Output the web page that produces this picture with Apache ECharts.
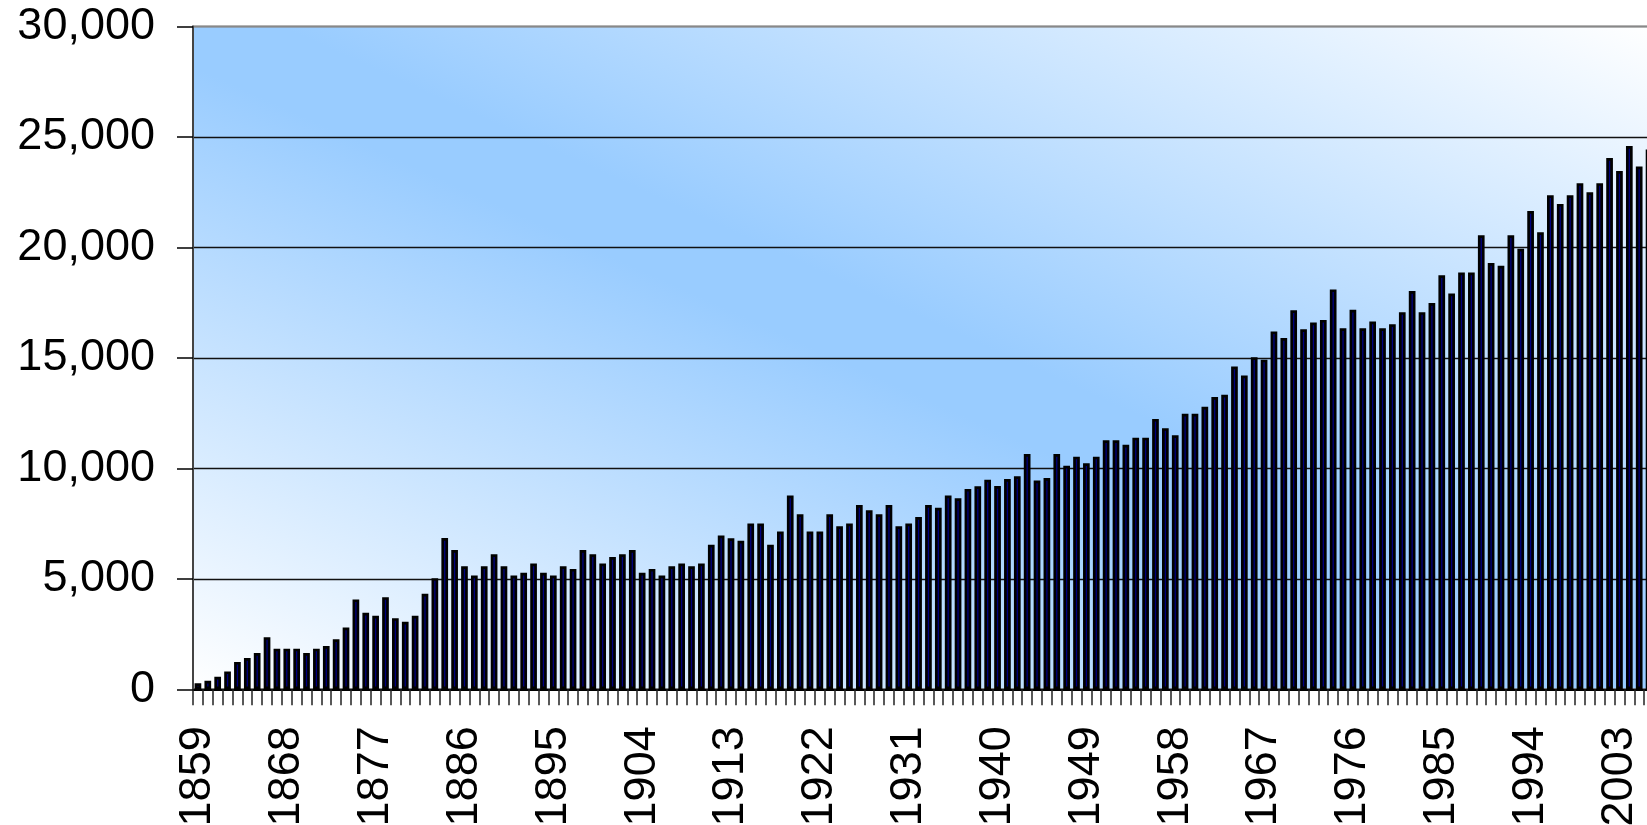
<!DOCTYPE html>
<html>
<head>
<meta charset="utf-8">
<script src="https://cdn.jsdelivr.net/npm/echarts@6/dist/echarts.min.js"></script>
<style>
  html, body { margin: 0; padding: 0; background: #ffffff; }
  #chart { width: 1647px; height: 825px; }
</style>
</head>
<body>
<div id="chart"></div>
<script>
// Yearly totals, 1859-2006
const years = [
  1859, 1860, 1861, 1862, 1863, 1864, 1865, 1866, 1867, 1868,
  1869, 1870, 1871, 1872, 1873, 1874, 1875, 1876, 1877, 1878,
  1879, 1880, 1881, 1882, 1883, 1884, 1885, 1886, 1887, 1888,
  1889, 1890, 1891, 1892, 1893, 1894, 1895, 1896, 1897, 1898,
  1899, 1900, 1901, 1902, 1903, 1904, 1905, 1906, 1907, 1908,
  1909, 1910, 1911, 1912, 1913, 1914, 1915, 1916, 1917, 1918,
  1919, 1920, 1921, 1922, 1923, 1924, 1925, 1926, 1927, 1928,
  1929, 1930, 1931, 1932, 1933, 1934, 1935, 1936, 1937, 1938,
  1939, 1940, 1941, 1942, 1943, 1944, 1945, 1946, 1947, 1948,
  1949, 1950, 1951, 1952, 1953, 1954, 1955, 1956, 1957, 1958,
  1959, 1960, 1961, 1962, 1963, 1964, 1965, 1966, 1967, 1968,
  1969, 1970, 1971, 1972, 1973, 1974, 1975, 1976, 1977, 1978,
  1979, 1980, 1981, 1982, 1983, 1984, 1985, 1986, 1987, 1988,
  1989, 1990, 1991, 1992, 1993, 1994, 1995, 1996, 1997, 1998,
  1999, 2000, 2001, 2002, 2003, 2004, 2005, 2006
];

const counts = [
  270, 390, 570, 810, 1240, 1420, 1640, 2360, 1840, 1840,
  1840, 1640, 1840, 1960, 2260, 2800, 4070, 3460, 3330, 4170,
  3220, 3060, 3330, 4320, 5030, 6850, 6300, 5570, 5150, 5570,
  6110, 5570, 5150, 5270, 5690, 5270, 5150, 5570, 5450, 6300,
  6110, 5690, 5990, 6110, 6300, 5270, 5450, 5150, 5570, 5690,
  5570, 5690, 6540, 6960, 6840, 6720, 7500, 7500, 6540, 7140,
  8770, 7920, 7140, 7140, 7920, 7380, 7500, 8340, 8100, 7920,
  8340, 7380, 7500, 7800, 8340, 8220, 8770, 8650, 9070, 9190,
  9490, 9200, 9520, 9640, 10650, 9450, 9560, 10650, 10120, 10530,
  10230, 10530, 11270, 11270, 11070, 11390, 11390, 12240, 11820, 11500,
  12470, 12470, 12790, 13230, 13330, 14610, 14200, 15030, 14920, 16200,
  15900, 17160, 16300, 16600, 16720, 18100, 16340, 17180, 16340, 16650,
  16340, 16520, 17070, 18030, 17070, 17480, 18740, 17910, 18860, 18860,
  20550, 19290, 19170, 20550, 19940, 21650, 20690, 22360, 21970, 22360,
  22910, 22500, 22910, 24050, 23460, 24590, 23660, 24430
];

const yMin = 0, yMax = 30000, yStep = 5000;

const fontFamily = "'Liberation Sans', Arial, Helvetica, sans-serif";
const chartW = 1647, chartH = 825;
const plot = { left: 193, top: 26.5, right: -7, bottom: 135.7 };

// Diagonal band fill: blue along the top-left/bottom-right diagonal,
// fading to white towards the other two corners.
const pw = chartW - plot.left - plot.right;
const ph = chartH - plot.top - plot.bottom;
const cx = plot.left + pw / 2, cy = plot.top + ph / 2;
const diag = Math.hypot(pw, ph);
const reach = pw * ph / diag;
const nx = ph / diag, ny = -pw / diag;
const plotFill = new echarts.graphic.LinearGradient(
  cx - nx * reach, cy - ny * reach, cx + nx * reach, cy + ny * reach,
  [
    { offset: 0, color: '#ffffff' },
    { offset: 0.47, color: '#99ccff' },
    { offset: 0.53, color: '#99ccff' },
    { offset: 1, color: '#ffffff' }
  ],
  true
);

const gridColors = ['#111', '#111', '#111', '#111', '#111', '#111', '#888'];

const chart = echarts.init(document.getElementById('chart'), null, { renderer: 'canvas' });
chart.setOption({
  animation: false,
  backgroundColor: '#ffffff',
  grid: {
    left: plot.left, top: plot.top, right: plot.right, bottom: plot.bottom,
    containLabel: false,
    outerBoundsMode: 'none',
    show: true,
    backgroundColor: plotFill,
    borderColor: '#888',
    borderWidth: 2
  },
  xAxis: {
    type: 'category',
    data: years,
    boundaryGap: true,
    axisLine: { show: true, lineStyle: { color: '#000', width: 2 } },
    axisTick: { show: true, interval: 0, length: 16, lineStyle: { color: '#222', width: 1.5 } },
    axisLabel: {
      interval: 8,
      rotate: 90,
      margin: 37,
      color: '#000',
      fontSize: 45,
      fontFamily: fontFamily
    },
    splitLine: { show: false }
  },
  yAxis: {
    type: 'value',
    min: yMin,
    max: yMax,
    interval: yStep,
    axisLine: { show: true, lineStyle: { color: '#444', width: 2 } },
    axisTick: { show: true, length: 16, lineStyle: { color: '#000', width: 1.5 } },
    axisLabel: {
      margin: 38,
      color: '#000',
      fontSize: 45,
      fontFamily: fontFamily,
      formatter: v => v.toLocaleString('en-US')
    },
    splitLine: { show: true, lineStyle: { color: gridColors, width: 1.3 } }
  },
  series: [{
    type: 'bar',
    data: counts,
    barWidth: 6.7,
    itemStyle: { color: '#000080', borderColor: '#000', borderWidth: 2.7 }
  }]
});
</script>
</body>
</html>
